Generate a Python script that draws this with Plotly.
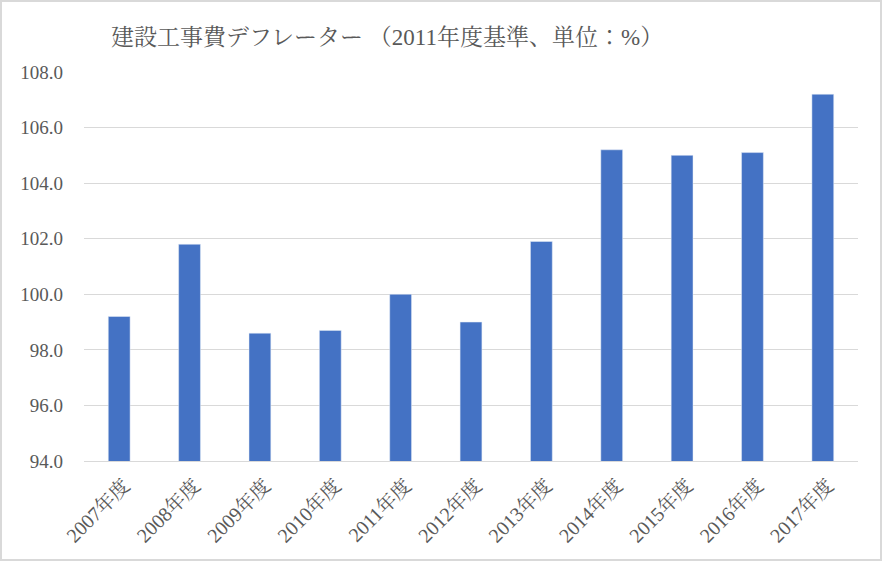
import plotly.graph_objects as go

categories = ["2007年度", "2008年度", "2009年度", "2010年度", "2011年度", "2012年度",
              "2013年度", "2014年度", "2015年度", "2016年度", "2017年度"]
values = [99.2, 101.8, 98.6, 98.7, 100.0, 99.0, 101.9, 105.2, 105.0, 105.1, 107.2]
y_ticks = [94, 96, 98, 100, 102, 104, 106, 108]
y_tick_labels = [f"{v:.1f}" for v in y_ticks]
title_text = "建設工事費デフレーター （2011年度基準、単位：%）"

W, H = 882, 561
L, R, T, B = 84, 24, 72, 100
FONT = "Liberation Serif, Noto Serif CJK JP, Noto Sans CJK JP, serif"
GREY_TXT = "#595959"

fig = go.Figure(go.Bar(x=categories, y=values, marker_color="#4472C4", width=0.31))

pw = W - L - R
ph = H - T - B
fig.add_shape(type="rect", xref="paper", yref="paper",
              x0=-(L - 1) / pw, x1=1 + (R - 1) / pw,
              y0=-(B - 1) / ph, y1=1 + (T - 1) / ph,
              line=dict(color="#d9d9d9", width=2), layer="below")

fig.update_layout(
    width=W, height=H,
    margin=dict(l=L, r=R, t=T, b=B),
    paper_bgcolor="white", plot_bgcolor="white",
    font=dict(family=FONT, color=GREY_TXT, size=19),
    title=dict(text=title_text, xref="container", yref="container",
               x=111 / W, xanchor="left", y=1 - 37 / H, yanchor="middle",
               font=dict(size=23, color=GREY_TXT, family=FONT)),
    showlegend=False,
    bargap=0.69,
)
fig.update_yaxes(range=[94, 108], tickvals=y_ticks, ticktext=y_tick_labels,
                 showgrid=True, gridcolor="#d9d9d9", gridwidth=1,
                 zeroline=False, showline=False, ticks="",
                 ticklabelstandoff=20, tickfont=dict(size=19, color=GREY_TXT))
fig.update_xaxes(showline=True, linecolor="#d9d9d9", linewidth=1, ticks="",
                 tickangle=-45, ticklabelstandoff=4, ticklabelshift=5,
                 tickfont=dict(size=20, color=GREY_TXT))

fig.write_html("out.html")
